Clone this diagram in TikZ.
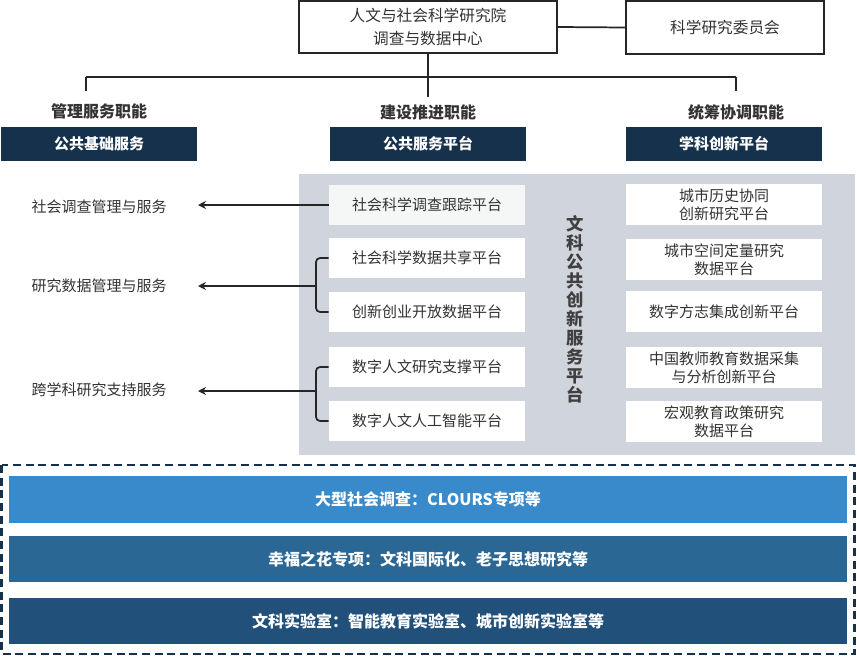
\documentclass[tikz,border=0pt]{standalone}
\usepackage{fontspec}
\setmainfont{Noto Sans CJK SC}
\usetikzlibrary{arrows.meta}
\definecolor{navy}{HTML}{15314B}
\definecolor{panelgray}{HTML}{D0D5DD}
\definecolor{txt}{HTML}{333333}
\definecolor{offwhite}{HTML}{F5F7F7}
\definecolor{barA}{HTML}{388ACA}
\definecolor{barB}{HTML}{2A6795}
\definecolor{barC}{HTML}{21507A}
\tikzset{
  topbox/.style={draw=black!85, line width=1.4pt, fill=white, text=txt, align=center, inner sep=0pt,
    font=\fontsize{11.75}{17}\selectfont},
  headtext/.style={text=txt, font=\fontsize{12}{14}\selectfont\bfseries, inner sep=0pt},
  darkbox/.style={fill=navy, text=white, inner sep=0pt, minimum width=147pt, minimum height=25.5pt,
    font=\fontsize{11.25}{12}\selectfont\bfseries},
  platbox/.style={fill=white, text=txt, inner sep=0pt, align=center, minimum width=147pt, minimum height=30.5pt,
    font=\fontsize{11.25}{13.5}\selectfont},
  sidetext/.style={text=txt, inner sep=0pt, font=\fontsize{11.25}{12}\selectfont},
  conn/.style={draw=black!85, line width=1.3pt},
  arr/.style={draw=black!85, line width=1.3pt, -{Stealth[length=6pt,width=6pt]}},
  bracepath/.style={draw=black!85, line width=1.3pt, rounded corners=3pt},
  bar/.style={inner sep=0pt, minimum width=628.5pt, minimum height=35pt, text=white,
    font=\fontsize{12}{14}\selectfont\bfseries},
}
\begin{document}
\begin{tikzpicture}[x=0.75pt,y=-0.75pt]
\useasboundingbox (0,0) rectangle (857,657);

% top
\node[topbox, minimum width=193.5pt, minimum height=39pt] (inst) at (428,27) {人文与社会科学研究院\\调查与数据中心};
\node[topbox, minimum width=148.5pt, minimum height=39.5pt] (comm) at (725,27.5) {科学研究委员会};
\draw[conn] (inst.east) -- (comm.west);

\coordinate (jc) at (428,77);
\coordinate (jl) at (86,77);
\coordinate (jr) at (736,77);
\coordinate (jce) at (428,97);
\coordinate (jle) at (86,91);
\coordinate (jre) at (736,91);
\draw[conn] (inst.south) -- (jce);
\draw[conn] (jl) -- (jr);
\draw[conn] (jl) -- (jle);
\draw[conn] (jr) -- (jre);

% headers
\node[headtext] (h1) at (99,111) {管理服务职能};
\node[headtext] (h2) at (428,112) {建设推进职能};
\node[headtext] (h3) at (736,112) {统筹协调职能};

\node[darkbox] (d1) at (99,144) {公共基础服务};
\node[darkbox] (d2) at (428,144) {公共服务平台};
\node[darkbox] (d3) at (724,144) {学科创新平台};

% panel
\fill[panelgray] (299,174) rectangle (855,455);

\node[platbox, fill=offwhite] (p1) at (427,205) {社会科学调查跟踪平台};
\node[platbox] (p2) at (427,258) {社会科学数据共享平台};
\node[platbox] (p3) at (427,312) {创新创业开放数据平台};
\node[platbox] (p4) at (427,367) {数字人文研究支撑平台};
\node[platbox] (p5) at (427,421) {数字人文人工智能平台};

\node[platbox] (q1) at (724,204.5) {城市历史协同\\创新研究平台};
\node[platbox] (q2) at (724,259.5) {城市空间定量研究\\数据平台};
\node[platbox] (q3) at (724,311.5) {数字方志集成创新平台};
\node[platbox] (q4) at (724,367.5) {中国教师教育数据采集\\与分析创新平台};
\node[platbox] (q5) at (724,421.5) {宏观教育政策研究\\数据平台};

\node[text=black!75, inner sep=0pt, align=center, font=\fontsize{13}{14.25}\selectfont\bfseries] (vt) at (575,309)
  {文\\科\\公\\共\\创\\新\\服\\务\\平\\台};

% left labels
\node[sidetext] (s1) at (99,207) {社会调查管理与服务};
\node[sidetext] (s2) at (99,286) {研究数据管理与服务};
\node[sidetext] (s3) at (99,390) {跨学科研究支持服务};

\coordinate (t1) at (198,205);
\coordinate (t2) at (198,286);
\coordinate (t3) at (198,391);
\coordinate (b2) at (316,286);
\coordinate (b3) at (316,391);

\draw[arr] (p1.west) -- (t1);
\draw[bracepath] (p2.west) -| (b2) |- (p3.west);
\draw[arr] (b2) -- (t2);
\draw[bracepath] (p4.west) -| (b3) |- (p5.west);
\draw[arr] (b3) -- (t3);

% bottom frame
\draw[navy, line width=2.2pt, dash pattern=on 6pt off 3.5pt] (1.5,465) rectangle (854.5,654);
\node[bar, fill=barA] (bar1) at (428,499.5) {大型社会调查：CLOURS专项等};
\node[bar, fill=barB] (bar2) at (428,559) {幸福之花专项：文科国际化、老子思想研究等};
\node[bar, fill=barC] (bar3) at (428,621) {文科实验室：智能教育实验室、城市创新实验室等};
\end{tikzpicture}
\end{document}
